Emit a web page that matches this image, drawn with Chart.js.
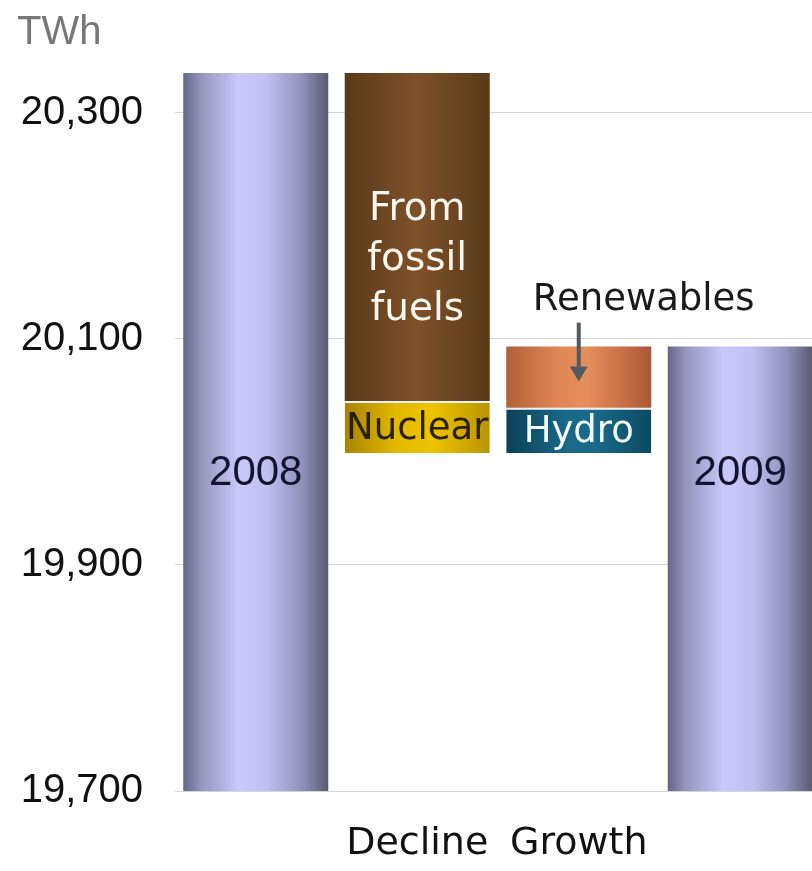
<!DOCTYPE html>
<html>
<head>
<meta charset="utf-8">
<script src="https://cdn.jsdelivr.net/npm/chart.js@4/dist/chart.umd.min.js"></script>
<style>
  html, body { margin: 0; padding: 0; background: #fff; overflow: hidden; }
  #wrap { width: 821px; height: 871px; }
</style>
</head>
<body>
<div id="wrap"><canvas id="chart" width="821" height="871"></canvas></div>
<script>
// categories on the x axis (first and last are the year totals)
var categories = ['2008', 'Decline', 'Growth', '2009'];

// floating bars, [from, to] in TWh
var yearTotals = [[19700, 20335], null, null, [19700, 20093]];
var fossilFuels = [null, [20045, 20335], null, null];
var nuclear = [null, [19999, 20045], null, null];
var renewables = [null, null, [20039, 20093], null];
var hydro = [null, null, [19999, 20039], null];

var yTicks = [19700, 19900, 20100, 20300];

// horizontal gradient across each bar
function barGradient(stops) {
    return function (c) {
        var chart = c.chart;
        var xs = chart.scales.x;
        if (!chart.chartArea || !xs) {
            return stops[Math.floor(stops.length / 2)][1];
        }
        var cx = xs.getPixelForValue(c.dataIndex);
        var half = xs.width / categories.length * 0.898 / 2;
        var g = chart.ctx.createLinearGradient(cx - half, 0, cx + half, 0);
        stops.forEach(function (s) { g.addColorStop(s[0], s[1]); });
        return g;
    };
}

var lavender = [[0, '#66668a'], [0.12, '#9494bc'], [0.38, '#c8c8fa'], [0.58, '#c0c0f0'], [0.82, '#9090ba'], [1, '#5a5a70']];
var brown = [[0, '#58391a'], [0.25, '#6c4522'], [0.5, '#7e5129'], [0.75, '#6c4522'], [1, '#58391a']];
var gold = [[0, '#a88400'], [0.35, '#e2b800'], [0.6, '#eec400'], [1, '#b89400']];
var salmon = [[0, '#b0603a'], [0.35, '#e08656'], [0.55, '#e68e5c'], [0.8, '#c87048'], [1, '#a8583a']];
var teal = [[0, '#0c4058'], [0.4, '#186886'], [0.6, '#1a6a8a'], [1, '#0c4a62']];

var labelPlugin = {
    id: 'barLabels',
    afterDatasetsDraw: function (chart) {
        var ctx = chart.ctx;
        var ys = chart.scales.y;
        function bar(di, i) { return chart.getDatasetMeta(di).data[i]; }

        ctx.save();
        ctx.textAlign = 'center';
        ctx.textBaseline = 'middle';

        // year totals
        ctx.fillStyle = '#141430';
        ctx.font = '42px "Liberation Sans", Arial, sans-serif';
        var yearY = ys.getPixelForValue(19981);
        ctx.fillText('2008', bar(0, 0).x, yearY);
        ctx.fillText('2009', bar(0, 3).x, yearY);

        // from fossil fuels
        var f = bar(1, 1);
        ctx.fillStyle = '#fff8ee';
        ctx.font = '39px "DejaVu Sans", sans-serif';
        var mid = (f.y + f.base) / 2 + 23;
        ctx.fillText('From', f.x, mid - 50);
        ctx.fillText('fossil', f.x, mid);
        ctx.fillText('fuels', f.x, mid + 50);

        // nuclear
        var n = bar(2, 1);
        ctx.fillStyle = '#2a2000';
        ctx.font = '37px "DejaVu Sans", sans-serif';
        ctx.fillText('Nuclear', n.x, (n.y + n.base) / 2 + 2);

        // hydro
        var h = bar(4, 2);
        ctx.fillStyle = '#f4fbff';
        ctx.fillText('Hydro', h.x, (h.y + h.base) / 2 + 2);

        // renewables with arrow
        var r = bar(3, 2);
        ctx.fillStyle = '#1a1a1a';
        ctx.font = '37px "DejaVu Sans", sans-serif';
        ctx.fillText('Renewables', r.x + 65, r.y - 46);
        ctx.strokeStyle = '#555a60';
        ctx.fillStyle = '#555a60';
        ctx.lineWidth = 4;
        ctx.beginPath();
        ctx.moveTo(r.x, r.y - 24);
        ctx.lineTo(r.x, r.y + 22);
        ctx.stroke();
        ctx.beginPath();
        ctx.moveTo(r.x - 9, r.y + 20);
        ctx.lineTo(r.x + 9, r.y + 20);
        ctx.lineTo(r.x, r.y + 35);
        ctx.closePath();
        ctx.fill();

        // unit
        ctx.textAlign = 'left';
        ctx.textBaseline = 'alphabetic';
        ctx.fillStyle = '#777777';
        ctx.font = '40px "Liberation Sans", Arial, sans-serif';
        ctx.fillText('TWh', 17, 44);
        ctx.restore();
    }
};

var ctx = document.getElementById('chart').getContext('2d');
new Chart(ctx, {
    type: 'bar',
    data: {
        labels: categories,
        datasets: [
            { label: 'Total', data: yearTotals, backgroundColor: barGradient(lavender), borderWidth: 0 },
            { label: 'From fossil fuels', data: fossilFuels, backgroundColor: barGradient(brown), borderWidth: 0 },
            { label: 'Nuclear', data: nuclear, backgroundColor: barGradient(gold), borderColor: '#f2f2f2', borderWidth: { top: 2 } },
            { label: 'Renewables', data: renewables, backgroundColor: barGradient(salmon), borderWidth: 0 },
            { label: 'Hydro', data: hydro, backgroundColor: barGradient(teal), borderColor: '#f2f2f2', borderWidth: { top: 2 } }
        ]
    },
    options: {
        responsive: false,
        animation: false,
        barPercentage: 0.898,
        categoryPercentage: 1,
        layout: { padding: { top: 56, left: 0, right: 0, bottom: 0 } },
        plugins: {
            legend: { display: false },
            tooltip: { enabled: false }
        },
        scales: {
            x: {
                stacked: true,
                grid: { display: false, drawTicks: false },
                border: { display: false },
                ticks: {
                    color: '#111',
                    padding: 30,
                    font: { family: '"DejaVu Sans", sans-serif', size: 38 },
                    callback: function (v, i) { return (i === 1 || i === 2) ? categories[i] : ''; }
                },
                afterFit: function (scale) { scale.height = 80; }
            },
            y: {
                min: 19700,
                max: 20350,
                grid: { color: '#d4d4d4', lineWidth: 1, drawTicks: false },
                border: { display: false },
                ticks: {
                    color: '#111',
                    padding: 32,
                    font: { family: '"Liberation Sans", Arial, sans-serif', size: 40 },
                    callback: function (v) { return v.toLocaleString('en-US'); }
                },
                afterBuildTicks: function (scale) {
                    scale.ticks = yTicks.map(function (v) { return { value: v }; });
                },
                afterFit: function (scale) { scale.width = 175; }
            }
        }
    },
    plugins: [labelPlugin]
});
</script>
</body>
</html>
